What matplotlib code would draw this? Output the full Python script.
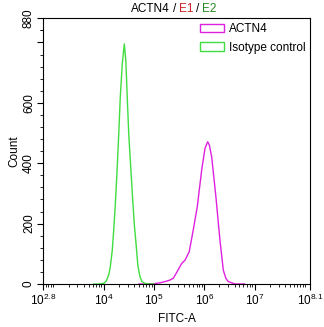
import matplotlib
matplotlib.use("Agg")
import matplotlib.pyplot as plt
import numpy as np
from matplotlib.patches import Patch
from matplotlib.offsetbox import TextArea, HPacker, AnchoredOffsetbox

plt.rcParams['font.family'] = ['Liberation Sans', 'DejaVu Sans']
plt.rcParams['mathtext.fontset'] = 'custom'
plt.rcParams['mathtext.rm'] = 'Liberation Sans'
plt.rcParams['mathtext.it'] = 'Liberation Sans'

# Data (log10 FITC-A, count)
iso_log = [3.8, 3.9, 4.0, 4.05, 4.1, 4.13, 4.17, 4.2, 4.23, 4.27, 4.3, 4.33, 4.37,
           4.41, 4.44, 4.47, 4.5, 4.54, 4.58, 4.61, 4.65, 4.68, 4.72, 4.76, 4.82, 4.9, 5.0]
iso_cnt = [0, 0, 2, 10, 30, 55, 110, 180, 260, 390, 500, 620, 730,
           795, 740, 610, 490, 380, 270, 195, 120, 60, 25, 8, 2, 0, 0]

actn_log = [4.7, 4.92, 5.0, 5.119, 5.218, 5.318, 5.383, 5.457, 5.55, 5.616, 5.70, 5.78,
            5.86, 5.947, 6.013, 6.067, 6.10, 6.146, 6.23, 6.31, 6.377, 6.43, 6.476, 6.61, 6.8]
actn_cnt = [0, 0, 1, 4, 8, 13, 19, 40, 68, 79, 107, 179,
            256, 377, 449, 471, 460, 421, 289, 146, 46, 18, 8, 0, 0]

series_names = ["ACTN4", "Isotype control"]
colors = ["#E020E0", "#40DD40"]

xmin_exp, xmax_exp = 2.8, 8.1
xticks_exp = [2.8, 4, 5, 6, 7, 8.1]
xtick_labels = [r"$10^{2.8}$", r"$10^{4}$", r"$10^{5}$", r"$10^{6}$", r"$10^{7}$", r"$10^{8.1}$"]
yticks_major = [0, 200, 400, 600, 800, 880]
ytick_labels = ["0", "200", "400", "600", "", "880"]

fig = plt.figure(figsize=(3.24, 3.27), dpi=100)
ax = fig.add_axes([43.3/324, 1-284/327, (310-43.3)/324, (284-18.3)/327])

ax.plot(10**np.array(actn_log), actn_cnt, color=colors[0], lw=1.0)
ax.plot(10**np.array(iso_log), iso_cnt, color=colors[1], lw=1.0)

ax.set_xscale('log')
ax.set_xlim(10**xmin_exp, 10**xmax_exp)
ax.set_ylim(0, 880)

ax.set_xticks([10**e for e in xticks_exp])
ax.set_xticklabels(xtick_labels, fontsize=8.5)
minor_x = []
for d in range(2, 9):
    for m in range(1, 10):
        v = m * 10**d
        if 10**xmin_exp < v < 10**xmax_exp and not (m == 1 and d in (4, 5, 6, 7)):
            minor_x.append(v)
ax.set_xticks(minor_x, minor=True)
ax.set_xticklabels([], minor=True)

ax.set_yticks(yticks_major)
ax.set_yticklabels(ytick_labels, fontsize=8.5, rotation=90, va='center')
ax.set_yticks([v for v in range(40, 880, 40) if v not in yticks_major] + [840], minor=True)

ax.tick_params(axis='both', which='major', length=4, width=0.8, direction='out', pad=2)
ax.tick_params(axis='both', which='minor', length=2, width=0.6, direction='out')
for s in ax.spines.values():
    s.set_linewidth(0.8)

ax.set_xlabel("FITC-A", fontsize=8.5, labelpad=4)
ax.set_ylabel("Count", fontsize=8.5, labelpad=2)

handles = [Patch(facecolor='none', edgecolor=c, lw=1.0) for c in colors]
ax.legend(handles, series_names, loc='upper right', frameon=False, fontsize=8.5,
          handlelength=2.0, handleheight=0.7, borderaxespad=0.1, labelspacing=0.55,
          handletextpad=0.4, borderpad=0.3)

parts = [("ACTN4", "black"), ("/", "black"), ("E1", "#CC2222"), ("/", "black"), ("E2", "#228822")]
boxes = [TextArea(t, textprops=dict(color=c, fontsize=8.5)) for t, c in parts]
pack = HPacker(children=boxes, align="baseline", pad=0, sep=2)
ab = AnchoredOffsetbox(loc='lower center', child=pack, pad=0, frameon=False,
                       bbox_to_anchor=(0.49, 1.012), bbox_transform=ax.transAxes, borderpad=0)
ax.add_artist(ab)

fig.savefig("out.png", dpi=100)
